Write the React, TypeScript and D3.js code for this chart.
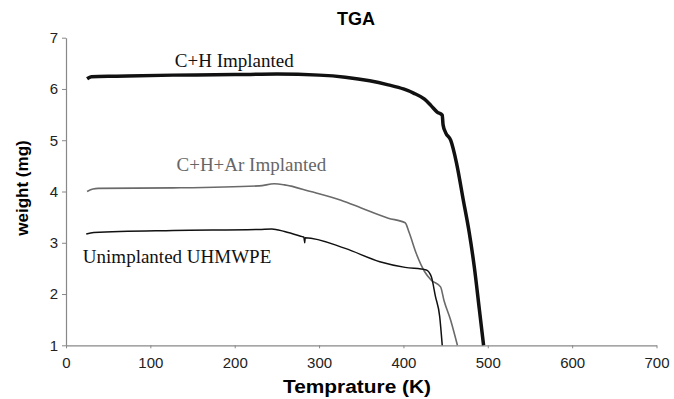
import React, { useEffect, useRef } from 'react';
import * as d3 from 'd3';

// TGA curves: [temperature (K), weight (mg)]
const chImplanted: [number, number][] = [
  [25, 6.2], [30, 6.24], [60, 6.25], [127, 6.27], [200, 6.28], [250, 6.29],
  [300, 6.27], [331, 6.23], [360, 6.16], [382, 6.08], [400, 6.0], [412, 5.92],
  [425, 5.8], [433, 5.67], [440, 5.55], [446, 5.49], [447, 5.3], [450, 5.15],
  [456, 5.0], [463, 4.55], [471, 3.83], [478, 3.2], [484, 2.53], [490, 1.7], [495, 1.0],
];

const chArImplanted: [number, number][] = [
  [25, 4.0], [32, 4.05], [38, 4.06], [127, 4.07], [229, 4.11], [247, 4.15],
  [259, 4.13], [290, 4.0], [326, 3.83], [350, 3.68], [382, 3.48], [402, 3.39],
  [407, 3.19], [415, 2.8], [425, 2.44], [433, 2.27], [444, 2.14], [448, 1.88],
  [456, 1.49], [464, 1.0],
];

const unimplanted: [number, number][] = [
  [24, 3.17], [33, 3.2], [127, 3.24], [229, 3.26], [244, 3.27], [259, 3.22],
  [280, 3.12], [282, 3.11], [283, 3.0], [283.5, 3.1], [331, 2.89], [372, 2.63],
  [402, 2.52], [427, 2.47], [433, 2.34], [438, 1.95], [443, 1.56], [446, 1.0],
];

const xTicks = [0, 100, 200, 300, 400, 500, 600, 700];
const yTicks = [1, 2, 3, 4, 5, 6, 7];

// label anchors are in data units (K, mg)
const series = [
  { name: 'C+H Implanted', data: chImplanted, color: '#111', width: 3.5, labelAt: [129, 6.43], labelColor: '#111' },
  { name: 'C+H+Ar Implanted', data: chArImplanted, color: '#6a6a6a', width: 1.6, labelAt: [131, 4.4], labelColor: '#666' },
  { name: 'Unimplanted UHMWPE', data: unimplanted, color: '#111', width: 1.5, labelAt: [20, 2.61], labelColor: '#111' },
];

const App = () => {
  const svgRef = useRef<SVGSVGElement>(null);

  useEffect(() => {
    const svg = d3.select(svgRef.current);
    svg.selectAll('*').remove();

    const x = d3.scaleLinear().domain([0, 700]).range([66, 656.5]);
    const y = d3.scaleLinear().domain([1, 7]).range([345.3, 37.7]);

    // axes
    const xAxis = svg.append('g')
      .attr('transform', `translate(0,${y(1)})`)
      .call(d3.axisBottom(x).tickValues(xTicks).tickFormat(d3.format('d')).tickSize(3).tickSizeOuter(0).tickPadding(9));
    const yAxis = svg.append('g')
      .attr('transform', `translate(${x(0)},0)`)
      .call(d3.axisLeft(y).tickValues(yTicks).tickFormat(d3.format('d')).tickSize(4).tickSizeOuter(0).tickPadding(4));

    [xAxis, yAxis].forEach(ax => {
      ax.select('.domain').attr('stroke', '#888').attr('stroke-width', 1.2);
      ax.selectAll('.tick line').attr('stroke', '#888');
      ax.selectAll('.tick text')
        .attr('fill', '#222')
        .style('font-family', 'Arial, "Liberation Sans", sans-serif')
        .style('font-size', '15px');
    });

    // curves
    const line = d3.line<[number, number]>()
      .x(d => x(d[0]))
      .y(d => y(d[1]))
      .curve(d3.curveMonotoneX);

    series.forEach(s => {
      svg.append('path')
        .attr('d', line(s.data))
        .attr('fill', 'none')
        .attr('stroke', s.color)
        .attr('stroke-width', s.width)
        .attr('stroke-linejoin', 'round');

      svg.append('text')
        .attr('x', x(s.labelAt[0]))
        .attr('y', y(s.labelAt[1]))
        .attr('fill', s.labelColor)
        .style('font-family', '"Liberation Serif", "Times New Roman", serif')
        .style('font-size', '19px')
        .text(s.name);
    });

    // titles
    svg.append('text')
      .attr('x', 356).attr('y', 25)
      .attr('text-anchor', 'middle')
      .style('font-family', 'Arial, "Liberation Sans", sans-serif')
      .style('font-weight', 'bold')
      .style('font-size', '18px')
      .text('TGA');

    svg.append('text')
      .attr('x', 357).attr('y', 393)
      .attr('text-anchor', 'middle')
      .attr('textLength', 148)
      .attr('lengthAdjust', 'spacingAndGlyphs')
      .style('font-family', 'Arial, "Liberation Sans", sans-serif')
      .style('font-weight', 'bold')
      .style('font-size', '18px')
      .text('Temprature (K)');

    svg.append('text')
      .attr('transform', 'translate(28,188) rotate(-90)')
      .attr('text-anchor', 'middle')
      .style('font-family', 'Arial, "Liberation Sans", sans-serif')
      .style('font-weight', 'bold')
      .style('font-size', '17px')
      .text('weight (mg)');
  }, []);

  return (
    <svg
      ref={svgRef}
      width={674}
      height={399}
      style={{ position: 'absolute', left: 0, top: 0, background: '#fff' }}
    />
  );
};

export default App;
